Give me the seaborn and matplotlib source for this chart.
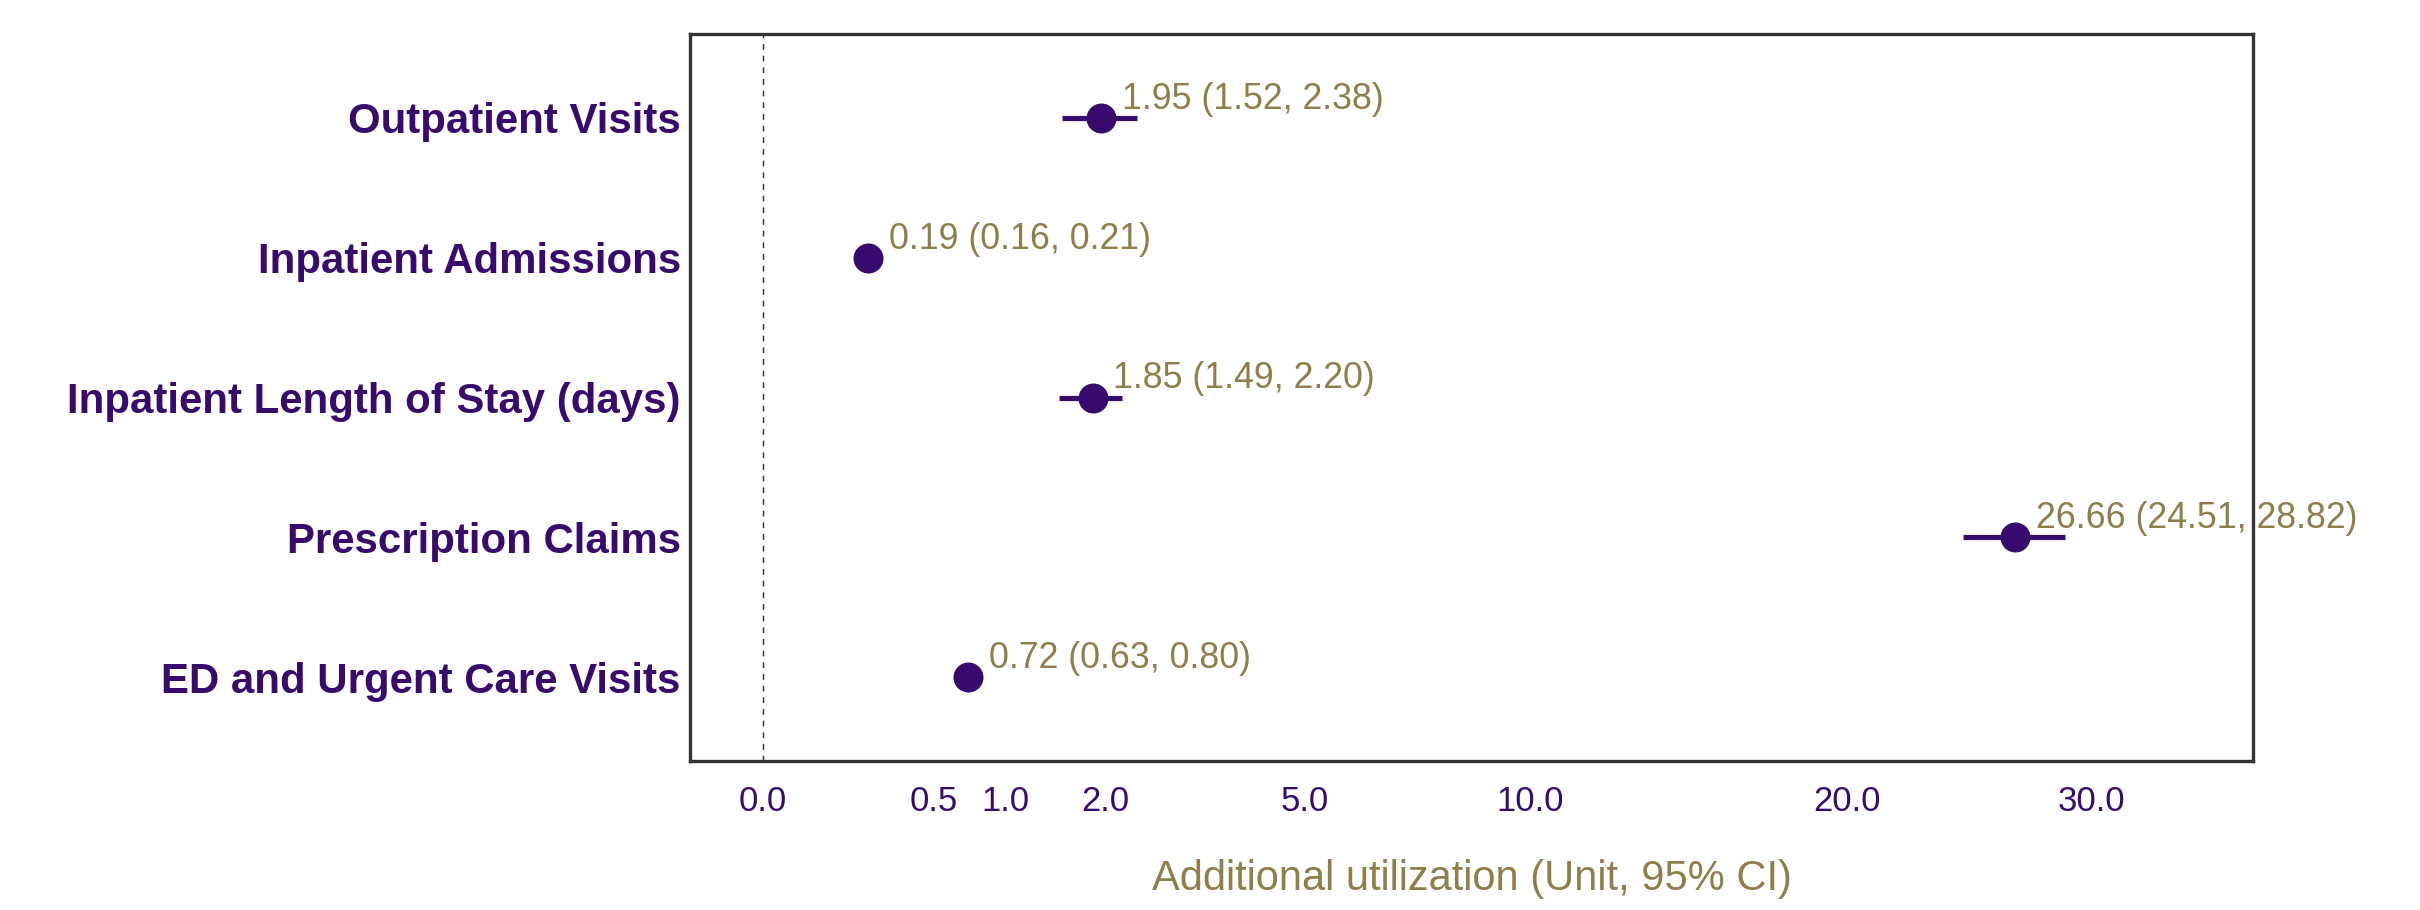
import matplotlib
matplotlib.use("Agg")
import matplotlib.pyplot as plt
import numpy as np
import pandas as pd
import seaborn as sns

# Data
outcomes = ["Outpatient Visits", "Inpatient Admissions", "Inpatient Length of Stay (days)",
            "Prescription Claims", "ED and Urgent Care Visits"]
estimate = [1.95, 0.19, 1.85, 26.66, 0.72]
ci_low = [1.52, 0.16, 1.49, 24.51, 0.63]
ci_high = [2.38, 0.21, 2.20, 28.82, 0.80]
x_ticks = [0, 0.5, 1, 2, 5, 10, 20, 30]

purple = '#380a6e'
olive = '#8f7e4a'

df = pd.DataFrame({'outcome': outcomes, 'est': estimate, 'lo': ci_low, 'hi': ci_high})
df['label'] = [f"{e:.2f} ({l:.2f}, {h:.2f})" for e, l, h in zip(df.est, df.lo, df.hi)]

sns.set_style('white')
plt.rcParams['font.family'] = ['Liberation Sans', 'DejaVu Sans']


def fwd(x):
    return np.sign(x) * np.sqrt(np.abs(x))


def inv(x):
    return np.sign(x) * x ** 2


fig, ax = plt.subplots(figsize=(2420 / 300, 910 / 300), dpi=300)
fig.subplots_adjust(left=0.2851, right=0.931, top=0.9626, bottom=0.1637)

ax.set_xscale('function', functions=(fwd, inv))

# zero reference line
ax.axvline(0, color='#333333', linestyle=(0, (4, 4)), linewidth=0.35, zorder=1)

# confidence intervals
ax.hlines(y=np.arange(len(df)), xmin=df['lo'], xmax=df['hi'], color=purple, linewidth=1.25, zorder=2)

sns.pointplot(data=df, x='est', y='outcome', order=outcomes, linestyle='none',
              errorbar=None, color=purple, markersize=7.2, markeredgewidth=0, ax=ax, zorder=3)

for i, row in df.iterrows():
    ax.annotate(row['label'], (row['est'], i), xytext=(5, 2.2), textcoords='offset points',
                ha='left', va='baseline', color=olive, fontsize=8.6)

ax.set_xlim(-0.09, 37.76)
ax.set_ylim(len(df) - 0.4, -0.6)
ax.set_xticks(x_ticks)
ax.set_xticklabels([f"{t:.1f}" for t in x_ticks])
ax.xaxis.set_minor_locator(matplotlib.ticker.NullLocator())

ax.tick_params(axis='x', length=2.2, width=0.8, color='#333333', pad=3.5,
               labelsize=8.3, labelcolor=purple)
ax.tick_params(axis='y', length=0, pad=2.2, labelsize=10.1, labelcolor=purple)
for lab in ax.get_yticklabels():
    lab.set_fontweight('bold')

ax.set_ylabel('')
ax.set_xlabel('Additional utilization (Unit, 95% CI)', fontsize=10, color=olive, labelpad=10)

for s in ax.spines.values():
    s.set_visible(True)
    s.set_color('#333333')
    s.set_linewidth(0.8)

fig.savefig('out.png', dpi=300)
